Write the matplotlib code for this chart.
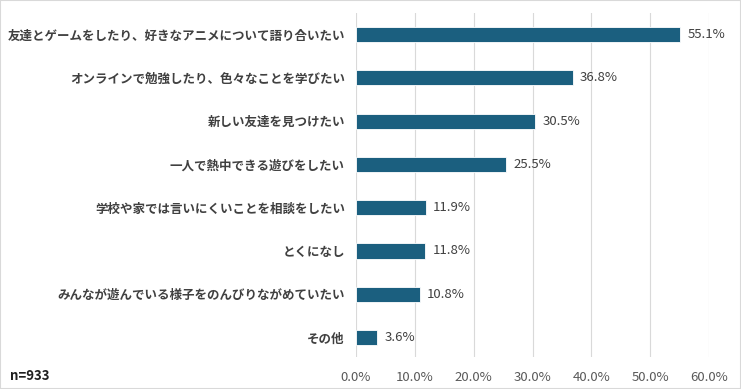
import matplotlib
matplotlib.use("Agg")
from matplotlib import pyplot as plt
from matplotlib.patches import Rectangle

plt.rcParams['font.family'] = ['Noto Sans CJK JP', 'DejaVu Sans']

# data
labels = ["友達とゲームをしたり、好きなアニメについて語り合いたい",
          "オンラインで勉強したり、色々なことを学びたい",
          "新しい友達を見つけたい",
          "一人で熱中できる遊びをしたい",
          "学校や家では言いにくいことを相談をしたい",
          "とくになし",
          "みんなが遊んでいる様子をのんびりながめていたい",
          "その他"]
values = [55.1, 36.8, 30.5, 25.5, 11.9, 11.8, 10.8, 3.6]
xticks = [0, 10, 20, 30, 40, 50, 60]
note = "n=933"

bar_color = "#1b5f7f"
text_color = "#404040"

fig = plt.figure(figsize=(7.41, 3.89), dpi=100)
ax = fig.add_axes([356/741, 1-357/389, (709-356)/741, (357-13)/389])

ypos = list(range(len(labels)))
ax.barh(ypos, values, height=0.35, color=bar_color, edgecolor="white", linewidth=0.6, zorder=3)
for y, v in zip(ypos, values):
    ax.text(v + 1.2, y, f"{v:.1f}%", va="center", ha="left", fontsize=9.5, color=text_color)

ax.set_xlim(0, 60)
ax.set_ylim(len(labels) - 0.55, -0.5)
ax.set_xticks(xticks)
ax.set_xticklabels([f"{t:.1f}%" for t in xticks], fontsize=9.5, color="#595959")
ax.set_yticks(ypos)
ax.set_yticklabels(labels, fontsize=9, fontweight="bold", color=text_color)
ax.tick_params(axis="both", length=0, pad=8)
ax.tick_params(axis="x", pad=10)
ax.grid(axis="x", color="#d9d9d9", linewidth=0.8, zorder=0)
for s in ax.spines.values():
    s.set_visible(False)

fig.text(10/741, 1-376/389, note, fontsize=9.5, fontweight="bold", color="#202020", va="center")
fig.patches.append(Rectangle((0, 0), 1, 1, transform=fig.transFigure,
                             fill=False, edgecolor="#d9d9d9", linewidth=1.5))

plt.savefig("out.png")
